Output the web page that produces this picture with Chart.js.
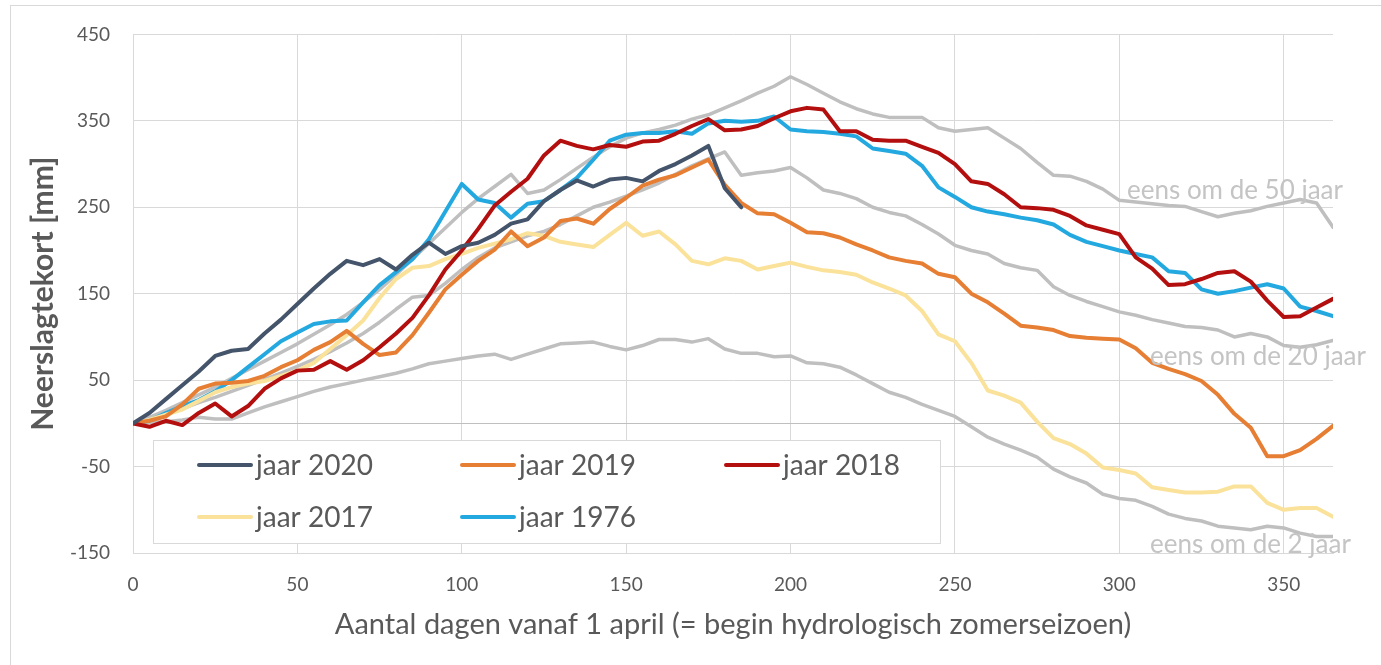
<!DOCTYPE html>
<html>
<head>
<meta charset="utf-8">
<script src="https://cdn.jsdelivr.net/npm/chart.js@4.4.0/dist/chart.umd.min.js"></script>
<style>
  html, body { margin: 0; padding: 0; background: #fff; overflow: hidden; }
  #wrap { position: relative; width: 1381px; height: 665px; }
</style>
</head>
<body>
<div id="wrap"><canvas id="chart" width="1381" height="665"></canvas></div>
<script>
// dagen vanaf 1 april
const days = [0,5,10,15,20,25,30,35,40,45,50,55,60,65,70,75,80,85,90,95,100,105,110,115,120,125,130,135,140,145,150,155,160,165,170,175,180,185,190,195,200,205,210,215,220,225,230,235,240,245,250,255,260,265,270,275,280,285,290,295,300,305,310,315,320,325,330,335,340,345,350,355,360,365]

const xTickValues = [0,50,100,150,200,250,300,350]
const yTickValues = [-150,-50,50,150,250,350,450]

// neerslagtekort [mm]
const jaar2020 = [0,12,28,44,60,78,84,86,104,120,138,156,173,188,183,190,178,195,209,196,205,209,218,231,236,257,270,281,274,282,284,280,292,300,310,321,272,250]
const jaar2019 = [0,3,8,22,40,46,47,49,55,65,73,85,94,107,92,79,82,102,128,155,172,188,201,222,205,215,234,237,231,248,261,275,282,287,296,305,276,255,243,242,232,221,220,215,207,200,192,188,185,173,169,150,140,127,113,111,108,101,99,98,97,87,70,63,57,49,33,11,-5,-38,-38,-31,-18,-3]
const jaar2018 = [0,-4,3,-2,12,23,8,20,40,52,61,62,72,62,73,88,104,122,148,178,200,225,252,268,283,310,327,321,317,322,320,326,327,335,344,352,339,340,344,353,361,365,363,338,338,328,327,327,320,313,300,280,277,265,250,249,247,240,229,224,219,192,179,160,161,167,174,176,164,142,123,124,134,144]
const jaar2017 = [0,4,10,16,26,36,42,46,49,55,61,70,86,102,119,145,167,180,182,190,196,203,208,213,220,217,210,207,204,218,232,217,222,207,188,184,191,188,178,182,186,181,177,175,172,163,156,148,130,103,95,70,38,32,24,2,-17,-24,-35,-51,-54,-58,-74,-77,-80,-80,-79,-73,-73,-92,-100,-98,-98,-108]
const jaar1976 = [0,3,12,20,27,37,50,65,80,95,105,115,118,119,140,160,175,190,213,245,277,259,255,238,254,257,270,284,305,327,334,336,336,338,335,347,350,349,350,355,340,338,337,335,332,318,315,312,298,273,262,250,245,242,238,235,230,218,210,205,200,196,192,176,174,155,150,153,157,161,156,135,130,124]
const eens50 = [0,7,15,24,33,42,52,62,72,82,92,103,114,126,140,155,172,190,208,226,244,260,274,288,266,270,282,295,308,320,330,336,340,345,352,357,365,373,382,390,401,392,382,372,364,358,354,354,354,342,338,340,342,330,318,302,287,286,280,271,258,256,254,252,251,245,239,243,246,251,255,259,255,227]
const eens20 = [0,5,11,17,24,30,37,44,51,58,66,74,83,93,104,117,132,146,148,162,178,192,203,210,217,222,230,240,250,256,263,270,278,288,298,306,314,287,290,292,296,284,270,266,260,250,244,240,230,219,206,200,196,185,180,177,158,148,141,135,129,125,120,116,112,111,108,100,104,100,90,88,91,96]
const eens2 = [0,1,2,4,7,5,5,12,19,25,31,37,42,46,50,54,58,63,69,72,75,78,80,74,80,86,92,93,94,89,85,90,97,97,94,98,86,81,81,77,78,70,69,65,56,46,36,30,22,15,8,-4,-16,-24,-31,-39,-53,-62,-69,-82,-87,-89,-96,-105,-110,-113,-119,-121,-123,-119,-121,-127,-131,-131]

const grey = "#bfbfbf"
const textGrey = "#595959"

function toPoints(values) {
  return values.map((v, i) => ({ x: days[i], y: v }))
}

function lineSet(label, values, color, width, order) {
  return {
    label: label,
    data: toPoints(values),
    borderColor: color,
    backgroundColor: color,
    borderWidth: width,
    pointRadius: 0,
    tension: 0,
    borderJoinStyle: "round",
    borderCapStyle: "round",
    order: order,
  }
}

const datasets = [
  lineSet("eens om de 2 jaar", eens2, grey, 3.5, 8),
  lineSet("eens om de 20 jaar", eens20, grey, 3.5, 7),
  lineSet("eens om de 50 jaar", eens50, grey, 3.5, 6),
  lineSet("jaar 1976", jaar1976, "#23a9e0", 4, 5),
  lineSet("jaar 2017", jaar2017, "#fbe29a", 4, 4),
  lineSet("jaar 2019", jaar2019, "#e67e33", 4, 3),
  lineSet("jaar 2018", jaar2018, "#b40f0f", 4, 2),
  lineSet("jaar 2020", jaar2020, "#44546a", 4, 1),
]

// legend inside the plot + grey labels
const legendItems = [
  { label: "jaar 2020", x: 199, y: 465 },
  { label: "jaar 2019", x: 462, y: 465 },
  { label: "jaar 2018", x: 726, y: 465 },
  { label: "jaar 2017", x: 199, y: 517 },
  { label: "jaar 1976", x: 462, y: 517 },
]
const greyLabels = [
  { text: "eens om de 50 jaar", x: 1127, y: 191 },
  { text: "eens om de 20 jaar", x: 1150, y: 357 },
  { text: "eens om de 2 jaar", x: 1150, y: 545 },
]

const extras = {
  id: "extras",
  beforeDraw(chart) {
    const ctx = chart.ctx
    ctx.save()
    ctx.fillStyle = "#fff"
    ctx.fillRect(0, 0, chart.width, chart.height)
    ctx.strokeStyle = "#d9d9d9"
    ctx.lineWidth = 1
    ctx.strokeRect(10.5, 5.5, chart.width, chart.height)
    ctx.restore()
  },
  beforeDatasetsDraw(chart) {
    const { ctx, chartArea, scales } = chart
    const y0 = Math.round(scales.y.getPixelForValue(0)) + 0.5
    ctx.save()
    ctx.strokeStyle = "#bfbfbf"
    ctx.lineWidth = 1.2
    ctx.beginPath()
    ctx.moveTo(chartArea.left, y0)
    ctx.lineTo(chartArea.right, y0)
    ctx.stroke()
    ctx.restore()
  },
  afterDatasetsDraw(chart) {
    const ctx = chart.ctx
    ctx.save()
    // legend box
    ctx.fillStyle = "#fff"
    ctx.fillRect(153, 440, 787, 103)
    ctx.strokeStyle = "#d9d9d9"
    ctx.lineWidth = 1
    ctx.strokeRect(153.5, 440.5, 787, 103)
    ctx.font = "28px Lato"
    ctx.textBaseline = "middle"
    ctx.textAlign = "left"
    legendItems.forEach((item) => {
      const ds = chart.data.datasets.find((d) => d.label === item.label)
      ctx.strokeStyle = ds.borderColor
      ctx.lineWidth = 4
      ctx.lineCap = "round"
      ctx.beginPath()
      ctx.moveTo(item.x, item.y)
      ctx.lineTo(item.x + 52, item.y)
      ctx.stroke()
      ctx.fillStyle = textGrey
      ctx.fillText(item.label, item.x + 57, item.y + 1)
    })
    // grey return period labels
    ctx.font = "26px Lato"
    ctx.fillStyle = "#c4c4c4"
    greyLabels.forEach((l) => ctx.fillText(l.text, l.x, l.y))
    ctx.restore()
  },
}

Chart.defaults.font.family = "Lato"
Chart.defaults.color = textGrey

new Chart(document.getElementById("chart"), {
  type: "line",
  data: { datasets: datasets },
  options: {
    responsive: false,
    animation: false,
    devicePixelRatio: 1,
    layout: { padding: { top: 33, right: 48, left: 0, bottom: 0 } },
    plugins: {
      legend: { display: false },
      tooltip: { enabled: false },
    },
    scales: {
      x: {
        type: "linear",
        min: 0,
        max: 365,
        afterBuildTicks: (scale) => {
          scale.ticks = xTickValues.map((v) => ({ value: v }))
        },
        afterFit: (scale) => {
          scale.height = 112
        },
        grid: { color: "#d9d9d9", lineWidth: 1, drawTicks: false },
        border: { color: "#d9d9d9" },
        ticks: { font: { size: 19 }, color: textGrey, padding: 20, maxRotation: 0 },
        title: {
          display: true,
          text: "Aantal dagen vanaf 1 april (= begin hydrologisch zomerseizoen)",
          font: { size: 29 },
          color: textGrey,
          padding: { top: 0, bottom: 23 },
        },
      },
      y: {
        type: "linear",
        min: -150,
        max: 450,
        afterBuildTicks: (scale) => {
          scale.ticks = yTickValues.map((v) => ({ value: v }))
        },
        afterFit: (scale) => {
          scale.width = 133
        },
        grid: { color: "#d9d9d9", lineWidth: 1, drawTicks: false },
        border: { color: "#d9d9d9" },
        ticks: { font: { size: 19 }, color: textGrey, padding: 23 },
        title: {
          display: true,
          text: "Neerslagtekort [mm]",
          font: { size: 30, weight: "bold" },
          color: textGrey,
          padding: { top: 25, bottom: 0 },
        },
      },
    },
  },
  plugins: [extras],
})
</script>
</body>
</html>
